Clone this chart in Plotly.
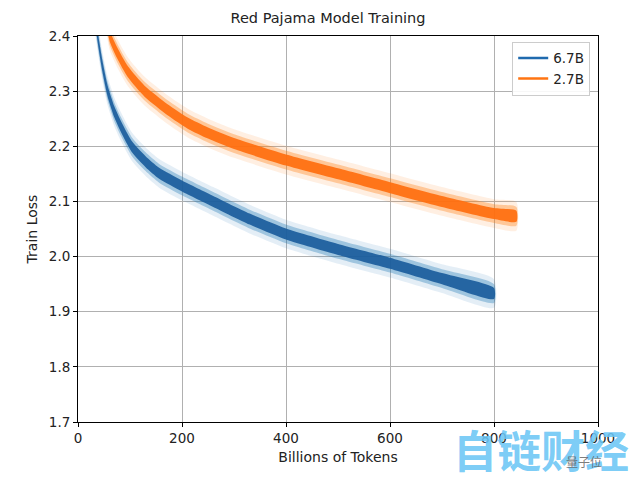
import plotly.graph_objects as go

# ---- data ----
x_67b = [33, 40, 47, 57, 70, 83, 103, 130, 156, 200, 260, 330, 400, 500, 600, 700, 800]
loss_67b = [2.43, 2.385, 2.345, 2.30, 2.262, 2.235, 2.20, 2.172, 2.151, 2.128, 2.10, 2.068, 2.041, 2.013, 1.988, 1.96, 1.933]
x_27b = [55, 61, 75, 96, 128, 173, 211, 250, 300, 400, 500, 600, 700, 800, 843]
loss_27b = [2.43, 2.40, 2.37, 2.335, 2.30, 2.266, 2.242, 2.224, 2.205, 2.175, 2.15, 2.125, 2.10, 2.078, 2.073]
band_spreads = [0.026, 0.017, 0.010]     # half-widths of the noise bands (faint -> dense)

series = [
    ("6.7B", x_67b, loss_67b, "31,119,180", "rgba(26,92,156,0.92)", "#1f6aae"),
    ("2.7B", x_27b, loss_27b, "255,127,14", "rgba(255,110,14,0.92)", "#ff7412"),
]

fig = go.Figure()
for name, xs, ys, rgb, dense, legend_col in series:
    alphas = [0.12, 0.35, None]
    for spread, alpha in zip(band_spreads, alphas):
        px_ = list(xs) + list(xs[::-1])
        py_ = [y + spread for y in ys] + [y - spread for y in ys[::-1]]
        col = dense if alpha is None else f"rgba({rgb},{alpha})"
        fig.add_trace(go.Scatter(x=px_, y=py_, fill="toself", mode="lines",
                                 line=dict(width=0, shape="spline", smoothing=0.6),
                                 fillcolor=col, showlegend=False, hoverinfo="skip"))
    # legend entry only
    fig.add_trace(go.Scatter(x=[None], y=[None], mode="lines", name=name,
                             line=dict(color=legend_col, width=2.5)))

axis_common = dict(showline=True, linecolor="black", linewidth=1, mirror=True,
                   ticks="outside", ticklen=4, tickcolor="black", automargin=False,
                   showgrid=True, gridcolor="#b0b0b0", gridwidth=1, zeroline=False,
                   tickfont=dict(size=13.5, color="#222"))
fig.update_xaxes(range=[0, 1000], tickvals=[0, 200, 400, 600, 800, 1000],
                 title=dict(text="Billions of Tokens", font=dict(size=14, color="#222"), standoff=6),
                 **axis_common)
fig.update_yaxes(range=[1.7, 2.4], tickvals=[1.7, 1.8, 1.9, 2.0, 2.1, 2.2, 2.3, 2.4],
                 tickformat=".1f",
                 title=dict(text="Train Loss", font=dict(size=14, color="#222"), standoff=7),
                 **axis_common)

fig.update_layout(
    width=640, height=492,
    margin=dict(l=78, r=42, t=36, b=70),
    paper_bgcolor="white", plot_bgcolor="white",
    font=dict(family="DejaVu Sans", size=13.5, color="#222"),
    title=dict(text="Red Pajama Model Training", xref="paper", x=(328 - 78) / 520, xanchor="center",
               y=1 - 18 / 492, yanchor="middle", font=dict(size=14.5, color="#222")),
    legend=dict(x=0.985, y=0.985, xanchor="right", yanchor="top",
                bgcolor="rgba(255,255,255,0.9)", bordercolor="#cccccc", borderwidth=1,
                font=dict(size=13.5, color="#222")),
)

# watermark (paper coordinates derived from pixel position)
fig.add_annotation(text="<b>自链财经</b>", xref="paper", yref="paper",
                   x=(541 - 78) / 520, y=(422 - 449) / 386, xanchor="center", yanchor="middle",
                   showarrow=False,
                   font=dict(size=44, color="rgba(108,198,245,0.9)", family="Noto Sans CJK SC"))
fig.add_annotation(text="量子位", xref="paper", yref="paper",
                   x=(584 - 78) / 520, y=(422 - 462) / 386, xanchor="center", yanchor="middle",
                   showarrow=False,
                   font=dict(size=12, color="rgba(90,90,90,0.8)", family="Noto Sans CJK SC"))

fig.write_html("out.html", config={"displayModeBar": False},
               post_script="document.body.style.margin='0';")
